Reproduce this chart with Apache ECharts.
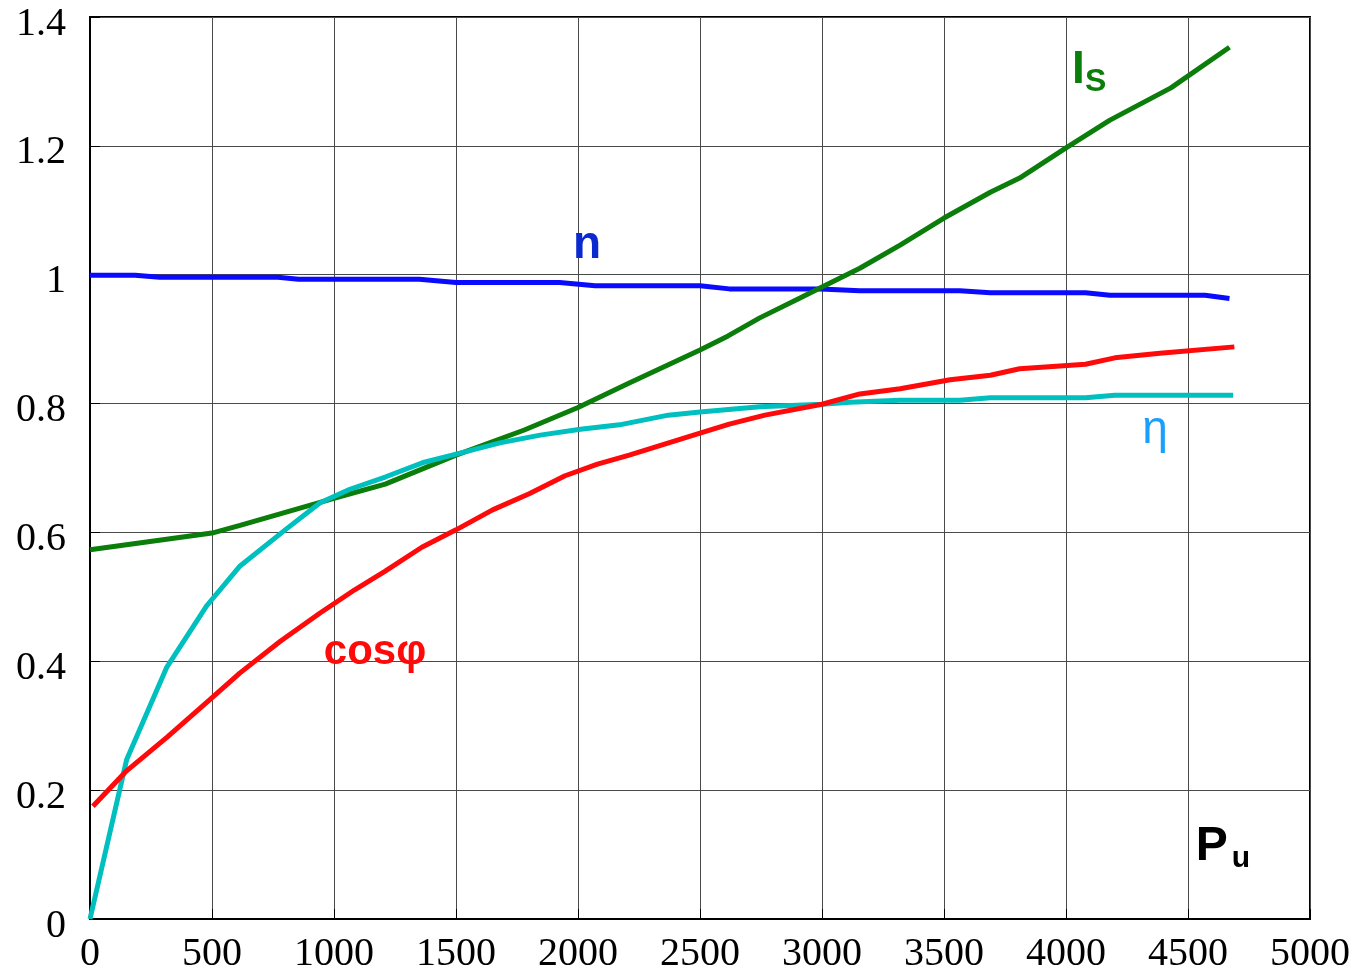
<!DOCTYPE html>
<html><head><meta charset="utf-8">
<script src="https://cdn.jsdelivr.net/npm/echarts@6/dist/echarts.min.js"></script>
<style>html,body{margin:0;padding:0;background:#fff}#c{width:1365px;height:975px}</style>
</head><body><div id="c"></div>
<script>
const xTicks = [0,500,1000,1500,2000,2500,3000,3500,4000,4500,5000];
const yTicks = [0,0.2,0.4,0.6,0.8,1,1.2,1.4];

const isX = [0,500,615,1000,1210,1500,1780,2000,2210,2500,2615,2745,2910,3000,3155,3320,3500,3690,3810,4000,4180,4430,4670];
const isY = [0.573,0.599,0.611,0.653,0.675,0.72,0.759,0.794,0.832,0.883,0.905,0.933,0.964,0.981,1.01,1.046,1.088,1.128,1.15,1.197,1.24,1.29,1.353];

const nX = [0,185,285,770,855,1350,1500,1925,2070,2500,2620,2995,3155,3565,3690,4080,4180,4570,4670];
const nY = [0.999,0.999,0.996,0.996,0.993,0.993,0.988,0.988,0.983,0.983,0.978,0.978,0.975,0.975,0.972,0.972,0.968,0.968,0.963];

const etaX = [0,150,315,480,615,800,943,1065,1210,1370,1537,1680,1845,2010,2170,2370,2500,2745,3000,3115,3320,3565,3690,4080,4200,4685];
const etaY = [0,0.247,0.391,0.487,0.548,0.604,0.646,0.667,0.686,0.709,0.725,0.739,0.751,0.76,0.767,0.782,0.787,0.795,0.799,0.802,0.805,0.805,0.809,0.809,0.813,0.813];

const cosX = [12,150,315,490,615,780,943,1085,1210,1360,1500,1650,1800,1947,2080,2210,2355,2500,2620,2766,3000,3155,3320,3525,3690,3810,4080,4200,4385,4690];
const cosY = [0.175,0.23,0.282,0.34,0.382,0.431,0.475,0.511,0.54,0.577,0.604,0.635,0.66,0.688,0.706,0.72,0.737,0.754,0.768,0.782,0.799,0.815,0.823,0.837,0.844,0.854,0.861,0.871,0.878,0.888];

const zip = (a,b)=>a.map((v,i)=>[v,b[i]]);
const chart = echarts.init(document.getElementById('c'));
const serif = '"Liberation Serif","Times New Roman",serif';
const sans = '"Liberation Sans",Arial,sans-serif';
const line = (name,x,y,color)=>({name,type:'line',data:zip(x,y),showSymbol:false,symbol:'none',
  lineStyle:{color,width:5},itemStyle:{color},animation:false,z:3});
chart.setOption({
  animation:false,
  grid:{left:90,right:55,top:17,bottom:56,show:true,borderColor:'#000',borderWidth:2,backgroundColor:'transparent'},
  xAxis:{type:'value',min:0,max:5000,interval:500,
    axisLine:{show:true,lineStyle:{color:'#000',width:2}},
    axisTick:{show:true,inside:true,length:10,lineStyle:{color:'#000'}},
    splitLine:{show:true,lineStyle:{color:'#4a4a4a',width:1}},
    axisLabel:{color:'#000',fontFamily:serif,fontSize:40,margin:15,formatter:v=>String(v)}},
  yAxis:{type:'value',min:0,max:1.4,interval:0.2,
    axisLine:{show:true,lineStyle:{color:'#000',width:2}},
    axisTick:{show:true,inside:true,length:10,lineStyle:{color:'#000'}},
    splitLine:{show:true,lineStyle:{color:'#4a4a4a',width:1}},
    axisLabel:{color:'#000',fontFamily:serif,fontSize:40,margin:24,
      formatter:v=>'{a|'+String(+v.toFixed(1))+'}',
      rich:{a:{fontFamily:serif,fontSize:40,color:'#000',padding:[14,0,0,0]}}}},
  series:[
    line('n',nX,nY,'#0a0aff'),
    line('Is',isX,isY,'#0a7d0a'),
    line('eta',etaX,etaY,'#00bfbf'),
    line('cos',cosX,cosY,'#ff0a0a')
  ]
});
const labels = [
  {x:2037,y:1.046,style:{text:'n',fill:'#0a2ad0',font:'bold 46px '+sans}},
  {x:4095,y:1.318,style:{text:'{a|I}{b|S}',rich:{a:{fill:'#0a7d0a',font:'bold 46px '+sans},b:{fill:'#0a7d0a',font:'bold 32px '+sans,padding:[24,0,0,0]}}}},
  {x:4365,y:0.759,style:{text:'η',fill:'#1a9fff',font:'46px '+sans}},
  {x:1168,y:0.414,style:{text:'cosφ',fill:'#ff0a0a',font:'bold 42px '+sans}},
  {x:4643,y:0.112,style:{text:'{a|P}{b|u}',rich:{a:{fill:'#000',font:'bold 48px '+sans},b:{fill:'#000',font:'bold 30px '+sans,padding:[24,0,0,4]}}}}
];
const g = labels.map(l=>{
  const p = chart.convertToPixel({gridIndex:0},[l.x,l.y]);
  return {type:'text',x:p[0],y:p[1],z:10,style:Object.assign({align:'center',verticalAlign:'middle'},l.style)};
});
chart.setOption({graphic:g});
</script></body></html>
